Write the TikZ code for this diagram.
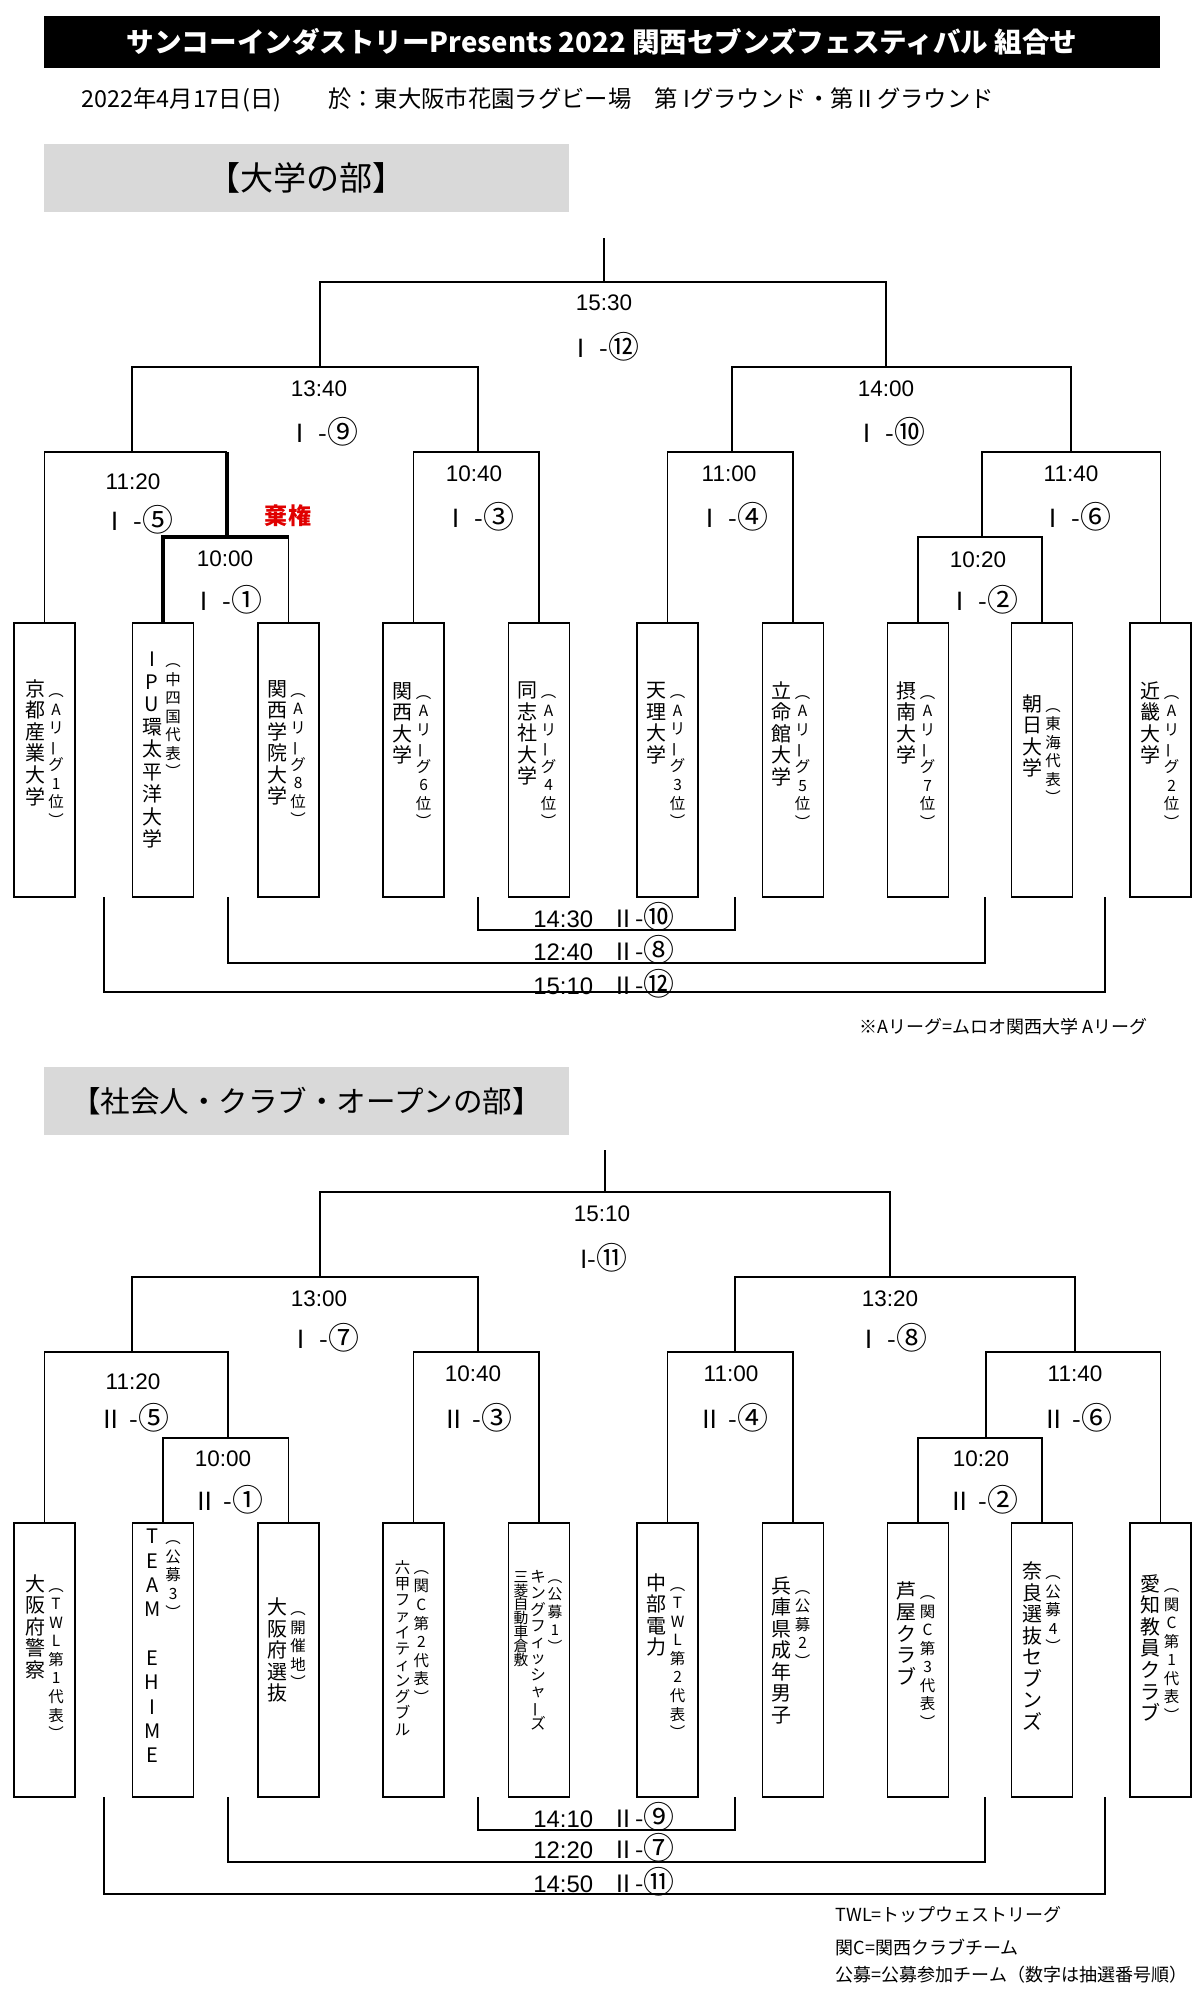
\documentclass[tikz,border=0pt]{standalone}
\usepackage{fontspec}
\setmainfont{Liberation Sans}
\newfontfamily\jp{Noto Sans CJK JP}
\usetikzlibrary{positioning,calc}
\definecolor{kikenred}{RGB}{224,0,0}
\newcommand\fsz[1]{\fontsize{#1}{#1}\selectfont}
% vertical column of characters: size, pitch, characters
\makeatletter
\newcommand\tate[3]{\vtop{\jp\fontsize{#1}{#2}\selectfont%
  \baselineskip=#2\relax\lineskiplimit=-\maxdimen\tate@i#3\relax}}
\def\tate@i#1{\ifx\relax#1\else\hbox to 1em{\hss#1\hss}\expandafter\tate@i\fi}
\makeatother
\newcommand\vbar{\rotatebox[origin=c]{90}{ー}}
\newcommand\tname[1]{\tate{14.2pt}{15.3pt}{#1}}
\newcommand\tnote[1]{\tate{11pt}{13.2pt}{#1}}
\newcommand\tgap{\kern2.3pt}
\newcommand\bigc[1]{\raisebox{-1pt}{\fsz{22pt}#1}}

\begin{document}
\begin{tikzpicture}[x=0.025cm,y=-0.025cm,line width=0.8pt,
  teambox/.style={draw,line width=1pt,minimum width=1.525cm,minimum height=6.85cm,inner sep=0},
  teamtxt/.style={inner sep=0},
  clock/.style={font=\fsz{16pt},inner sep=0},
  match/.style={font=\jp\fsz{17.8pt},inner sep=0},
  pair/.style={font=\fsz{17pt},inner sep=0,anchor=base},
  win/.style={line width=2.4pt},
  secbox/.style={fill=black!15,minimum width=13.125cm,minimum height=1.7cm,font=\jp\fsz{21pt}},
  note/.style={font=\jp\fsz{12.8pt},inner sep=0}]
\useasboundingbox (0,0) rectangle (1200,2001);

% heading
\node[fill=black,text=white,minimum width=27.9cm,minimum height=1.3cm,inner sep=0,
  font=\jp\bfseries\fsz{19.6pt}] (title) at (602,42)
  {サンコーインダストリーPresents 2022 関西セブンズフェスティバル 組合せ};
\node[font=\jp\fsz{16.6pt},anchor=west,inner sep=0] (date) at (81,100)
  {2022年4月17日(日)　　於：東大阪市花園ラグビー場　第 Iグラウンド・第Ⅱグラウンド};

%%%%% university section
\node[secbox,font=\jp\fsz{23.5pt}] (sec1) at (306.5,178) {【大学の部】};

\node[teambox] (u1) at (44.5,760) {};
\node[teambox] (u2) at (163,760) {};
\node[teambox] (u3) at (288.5,760) {};
\node[teambox] (u4) at (413.5,760) {};
\node[teambox] (u5) at (539,760) {};
\node[teambox] (u6) at (667.5,760) {};
\node[teambox] (u7) at (793,760) {};
\node[teambox] (u8) at (918,760) {};
\node[teambox] (u9) at (1042,760) {};
\node[teambox] (u10) at (1160.5,760) {};

\node[teamtxt] (u1n) at (44.5,753) {\tname{京都産業大学}\tgap\tnote{︵Aリ\vbar グ1位︶}};
\node[teamtxt] (u2n) at (161.5,750) {\tate{14.2pt}{16pt}{IPU環太平洋大学}\tgap\tnote{︵中四国代表︶}};
\node[teamtxt] (u3n) at (286.5,753) {\tname{関西学院大学}\tgap\tnote{︵Aリ\vbar グ8位︶}};
\node[teamtxt] (u4n) at (412,755) {\tname{関西大学}\tgap\tnote{︵Aリ\vbar グ6位︶}};
\node[teamtxt] (u5n) at (537,755) {\tname{同志社大学}\tgap\tnote{︵Aリ\vbar グ4位︶}};
\node[teamtxt] (u6n) at (666,755) {\tname{天理大学}\tgap\tnote{︵Aリ\vbar グ3位︶}};
\node[teamtxt] (u7n) at (791,755) {\tname{立命館大学}\tgap\tnote{︵Aリ\vbar グ5位︶}};
\node[teamtxt] (u8n) at (916,755) {\tname{摂南大学}\tgap\tnote{︵Aリ\vbar グ7位︶}};
\node[teamtxt] (u9n) at (1041.5,749) {\tname{朝日大学}\tgap\tnote{︵東海代表︶}};
\node[teamtxt] (u10n) at (1160,755) {\tname{近畿大学}\tgap\tnote{︵Aリ\vbar グ2位︶}};

\coordinate (uTop) at (604,238);
\coordinate (uF) at (604,282);
\coordinate (uSL) at (320,367);
\coordinate (uSR) at (886,367);
\coordinate (uQ1) at (132,452);
\coordinate (uQ2) at (478,452);
\coordinate (uQ3) at (732,452);
\coordinate (uQ4) at (1071,452);
\coordinate (uR1) at (227,537);
\coordinate (uR2) at (982,537);

\draw (uTop) -- (uF);
\draw (uSL) |- (uF) -| (uSR);
\draw (uQ1) |- (uSL) -| (uQ2);
\draw (uQ3) |- (uSR) -| (uQ4);
\draw (u1.north) |- (uQ1) -- (uQ1 -| uR1);
\draw[win] (uQ1 -| uR1) -- (uR1);
\draw[win] (u2.north) |- (uR1) -- (uR1 -| u3.north);
\draw (uR1 -| u3.north) -- (u3.north);
\draw (u4.north) |- (uQ2) -| (u5.north);
\draw (u6.north) |- (uQ3) -| (u7.north);
\draw (u8.north) |- (uR2) -| (u9.north);
\draw (uR2) |- (uQ4) -| (u10.north);

\node[clock] (uT12) at (604,303) {15:30};
\node[match] (uM12) at (604,347) {Ⅰ -\bigc{⑫}};
\node[clock] (uT9) at (319,389) {13:40};
\node[match] (uM9) at (323,432) {Ⅰ -\bigc{⑨}};
\node[clock] (uT10) at (886,389) {14:00};
\node[match] (uM10) at (890,432) {Ⅰ -\bigc{⑩}};
\node[clock] (uT5) at (133,482) {11:20};
\node[match] (uM5) at (138,520) {Ⅰ -\bigc{⑤}};
\node[clock] (uT3) at (474,474) {10:40};
\node[match] (uM3) at (479,517) {Ⅰ -\bigc{③}};
\node[clock] (uT4) at (729,474) {11:00};
\node[match] (uM4) at (733,517) {Ⅰ -\bigc{④}};
\node[clock] (uT6) at (1071,474) {11:40};
\node[match] (uM6) at (1076,517) {Ⅰ -\bigc{⑥}};
\node[clock] (uT1) at (225,559) {10:00};
\node[match] (uM1) at (227,600) {Ⅰ -\bigc{①}};
\node[clock] (uT2) at (978,560) {10:20};
\node[match] (uM2) at (983,600) {Ⅰ -\bigc{②}};
\node[font=\jp\bfseries\fsz{16.4pt},text=kikenred,inner sep=0] (kiken) at (288,516) {棄権};

% ground II games
\coordinate (ua1) at (478,897);
\coordinate (ua2) at (735,897);
\coordinate (uc1) at (604,930);
\coordinate (ub1) at (228,897);
\coordinate (ub2) at (985,897);
\coordinate (uc2) at (604,963);
\coordinate (ud1) at (104,897);
\coordinate (ud2) at (1105,897);
\coordinate (uc3) at (604,992);
\draw (ua1) |- (uc1) -| (ua2);
\draw (ub1) |- (uc2) -| (ub2);
\draw (ud1) |- (uc3) -| (ud2);
\node[pair] (uP10) at (604,927) {14:30\hspace{13pt}{\jp Ⅱ-\bigc{⑩}}};
\node[pair] (uP8) at (604,960) {12:40\hspace{13pt}{\jp Ⅱ-\bigc{⑧}}};
\node[pair] (uP12) at (604,994) {15:10\hspace{13pt}{\jp Ⅱ-\bigc{⑫}}};

\node[note,anchor=east] (aleague) at (1148,1027) {※Aリーグ=ムロオ関西大学 Aリーグ};

%%%%% club section
\node[secbox] (sec2) at (306.5,1101) {【社会人・クラブ・オープンの部】};

\node[teambox] (l1) at (44.5,1660) {};
\node[teambox] (l2) at (163,1660) {};
\node[teambox] (l3) at (288.5,1660) {};
\node[teambox] (l4) at (413.5,1660) {};
\node[teambox] (l5) at (539,1660) {};
\node[teambox] (l6) at (667.5,1660) {};
\node[teambox] (l7) at (793,1660) {};
\node[teambox] (l8) at (918,1660) {};
\node[teambox] (l9) at (1042,1660) {};
\node[teambox] (l10) at (1160.5,1660) {};

\node[teamtxt] (l1n) at (44.5,1657) {\tname{大阪府警察}\tgap\tnote{︵TWL第1代表︶}};
\node[teamtxt] (l2n) at (161.5,1646) {\tate{14.2pt}{17.3pt}{TEAM　EHIME}\tgap\tnote{︵公募3︶}};
\node[teamtxt] (l3n) at (286.5,1650) {\tname{大阪府選抜}\tgap\tnote{︵開催地︶}};
\node[teamtxt] (l4n) at (412,1648) {\tate{11pt}{11.5pt}{六甲ファイティングブル}\tgap\tnote{︵関C第2代表︶}};
\node[teamtxt] (l5n) at (538,1650) {\tate{10.5pt}{9.8pt}{三菱自動車倉敷}\kern1.4pt\tate{11pt}{11.6pt}{キングフィッシャ\vbar ズ}\kern1.4pt\tate{10.5pt}{12.5pt}{︵公募1︶}};
\node[teamtxt] (l6n) at (666,1656) {\tname{中部電力}\tgap\tnote{︵TWL第2代表︶}};
\node[teamtxt] (l7n) at (791,1650) {\tname{兵庫県成年男子}\tgap\tnote{︵公募2︶}};
\node[teamtxt] (l8n) at (916,1655) {\tname{芦屋クラブ}\tgap\tnote{︵関C第3代表︶}};
\node[teamtxt] (l9n) at (1041.5,1646) {\tname{奈良選抜セブンズ}\tgap\tnote{︵公募4︶}};
\node[teamtxt] (l10n) at (1160,1648) {\tname{愛知教員クラブ}\tgap\tnote{︵関C第1代表︶}};

\coordinate (lTop) at (605,1150);
\coordinate (lF) at (605,1192);
\coordinate (lSL) at (320,1277);
\coordinate (lSR) at (890,1277);
\coordinate (lQ1) at (132,1352);
\coordinate (lQ2) at (478,1352);
\coordinate (lQ3) at (735,1352);
\coordinate (lQ4) at (1075,1352);
\coordinate (lR1) at (228,1438);
\coordinate (lR2) at (986,1438);

\draw (lTop) -- (lF);
\draw (lSL) |- (lF) -| (lSR);
\draw (lQ1) |- (lSL) -| (lQ2);
\draw (lQ3) |- (lSR) -| (lQ4);
\draw (l1.north) |- (lQ1) -| (lR1);
\draw (l2.north) |- (lR1) -| (l3.north);
\draw (l4.north) |- (lQ2) -| (l5.north);
\draw (l6.north) |- (lQ3) -| (l7.north);
\draw (l8.north) |- (lR2) -| (l9.north);
\draw (lR2) |- (lQ4) -| (l10.north);

\node[clock] (lT11) at (602,1214) {15:10};
\node[match] (lM11) at (604,1258) {I-\bigc{⑪}};
\node[clock] (lT7) at (319,1299) {13:00};
\node[match] (lM7) at (324,1338) {Ⅰ -\bigc{⑦}};
\node[clock] (lT8) at (890,1299) {13:20};
\node[match] (lM8) at (892,1338) {Ⅰ -\bigc{⑧}};
\node[clock] (lT5) at (133,1382) {11:20};
\node[match] (lM5) at (134,1418) {Ⅱ -\bigc{⑤}};
\node[clock] (lT3) at (473,1374) {10:40};
\node[match] (lM3) at (477,1418) {Ⅱ -\bigc{③}};
\node[clock] (lT4) at (731,1374) {11:00};
\node[match] (lM4) at (733,1418) {Ⅱ -\bigc{④}};
\node[clock] (lT6) at (1075,1374) {11:40};
\node[match] (lM6) at (1077,1418) {Ⅱ -\bigc{⑥}};
\node[clock] (lT1) at (223,1459) {10:00};
\node[match] (lM1) at (228,1500) {Ⅱ -\bigc{①}};
\node[clock] (lT2) at (981,1459) {10:20};
\node[match] (lM2) at (983,1500) {Ⅱ -\bigc{②}};

% ground II games
\coordinate (la1) at (478,1797);
\coordinate (la2) at (735,1797);
\coordinate (lc1) at (604,1830);
\coordinate (lb1) at (228,1797);
\coordinate (lb2) at (985,1797);
\coordinate (lc2) at (604,1862);
\coordinate (ld1) at (104,1797);
\coordinate (ld2) at (1105,1797);
\coordinate (lc3) at (604,1894);
\draw (la1) |- (lc1) -| (la2);
\draw (lb1) |- (lc2) -| (lb2);
\draw (ld1) |- (lc3) -| (ld2);
\node[pair] (lP9) at (604,1827) {14:10\hspace{13pt}{\jp Ⅱ-\bigc{⑨}}};
\node[pair] (lP7) at (604,1858) {12:20\hspace{13pt}{\jp Ⅱ-\bigc{⑦}}};
\node[pair] (lP11) at (604,1892) {14:50\hspace{13pt}{\jp Ⅱ-\bigc{⑪}}};

\node[note,anchor=west] (twl) at (835,1915) {TWL=トップウェストリーグ};
\node[note,anchor=west] (kanc) at (835,1947) {関C=関西クラブチーム};
\node[note,anchor=west] (koubo) at (835,1975) {公募=公募参加チーム（数字は抽選番号順）};
\end{tikzpicture}
\end{document}
